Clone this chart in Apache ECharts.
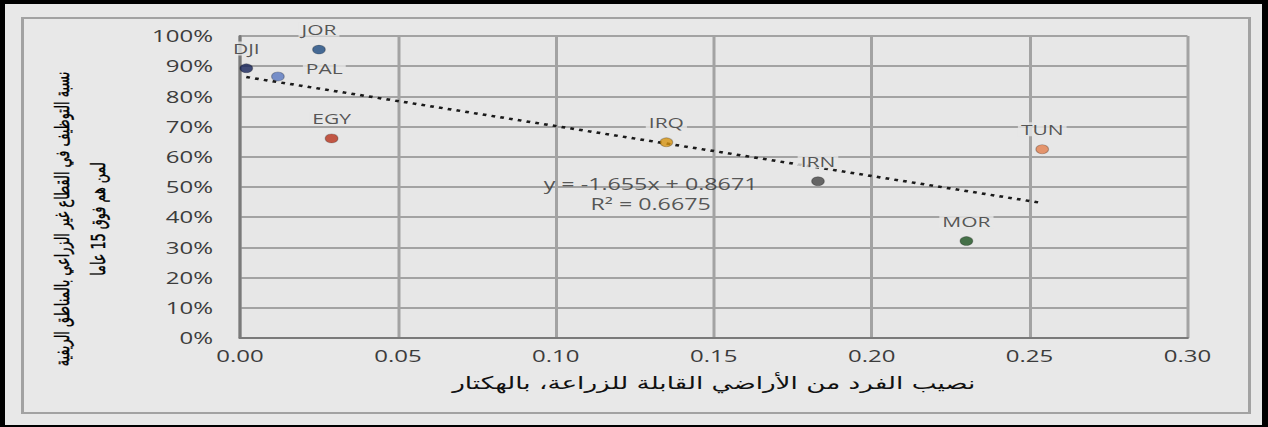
<!DOCTYPE html>
<html>
<head>
<meta charset="utf-8">
<script src="https://cdn.jsdelivr.net/npm/echarts@6/dist/echarts.min.js"></script>
<style>
html,body{margin:0;padding:0;background:#000;width:1268px;height:427px;overflow:hidden;}
#frame{position:absolute;left:5px;top:4px;width:1257px;height:421px;background:#e8e8e8;}
#inner{position:absolute;left:21px;top:17px;width:1224px;height:393px;border-style:solid;border-color:#a2a2a2;border-width:2px 3px 2px 3px;}
#chart{position:absolute;left:0;top:0;width:845.333px;height:427px;transform:scaleX(1.5);transform-origin:0 0;}
</style>
</head>
<body>
<div id="frame"></div>
<div id="inner"></div>
<div id="chart"></div>
<script>
// ---- data ----
const countries = ['DJI', 'JOR', 'PAL', 'EGY', 'IRQ', 'IRN', 'TUN', 'MOR'];
const landPerCapita = [0.002, 0.025, 0.012, 0.029, 0.135, 0.183, 0.254, 0.230];
const nonAgriShare = [0.893, 0.955, 0.866, 0.661, 0.648, 0.519, 0.625, 0.321];
const trendX = [0.002, 0.254];
const trendY = [0.864, 0.447];
const equationText = 'y = -1.655x + 0.8671\nR² = 0.6675';
const equationAt = [0.130, 0.476];
const xTitle = 'نصيب الفرد من الأراضي القابلة للزراعة، بالهكتار';
const yTitle = 'نسبة التوظيف في القطاع غير الزراعي بالمناطق الريفية\nلمن هم فوق 15 عاما';

// ---- styles ----
const colors = ['#15235a', '#1d4a80', '#5a78c0', '#b8321c', '#d7930f', '#454545', '#e4804d', '#1d5320'];
const labelPos = ['top', 'top', 'right', 'top', 'top', 'top', 'top', 'top'];

const chart = echarts.init(document.getElementById('chart'), null, {renderer: 'svg'});
const pts = countries.map((c, i) => ({
  name: c,
  value: [landPerCapita[i], nonAgriShare[i]],
  itemStyle: {color: colors[i]},
  label: labelPos[i] === 'right'
    ? {position: 'right', distance: 12, offset: [0, -8]}
    : {position: 'top', distance: 8}
}));

const grayTxt = '#3c3c3c';
chart.setOption({
  backgroundColor: 'transparent',
  animation: false,
  graphic: [{
    type: 'text', x: 54, y: 219, rotation: Math.PI / 2,
    style: {
      text: yTitle, fontFamily: 'DejaVu Sans', fontSize: 12.8,
      fill: '#000', stroke: '#000', lineWidth: 0.3,
      align: 'center', verticalAlign: 'middle', lineHeight: 24
    }
  }],
  grid: {left: 160, top: 36, right: 53.333, bottom: 89, containLabel: false, outerBoundsMode: 'none',
         show: true, backgroundColor: '#e7e7e7', borderWidth: 0},
  xAxis: {
    type: 'value', min: 0, max: 0.3, interval: 0.05,
    name: xTitle, nameLocation: 'middle', nameGap: 36,
    nameTextStyle: {fontFamily: 'DejaVu Sans', fontSize: 17.5, color: '#111'},
    axisLine: {show: true, lineStyle: {color: '#7a7a7a', width: 2}},
    axisTick: {show: false},
    axisLabel: {formatter: v => v.toFixed(2), fontFamily: 'Open Sans', fontSize: 16, color: grayTxt, margin: 10},
    splitLine: {show: true, lineStyle: {color: '#a3a3a3', width: 2}}
  },
  yAxis: {
    type: 'value', min: 0, max: 1, interval: 0.1,
    axisLine: {show: true, lineStyle: {color: '#7a7a7a', width: 2}},
    axisTick: {show: false},
    axisLabel: {formatter: v => Math.round(v * 100) + '%', fontFamily: 'Open Sans', fontSize: 16, color: grayTxt, margin: 18},
    splitLine: {show: true, lineStyle: {color: '#a3a3a3', width: 2}}
  },
  series: [
    {
      type: 'line', data: trendX.map((x, i) => [x, trendY[i]]),
      symbol: 'none', silent: true, z: 3,
      lineStyle: {color: '#1a1a1a', width: 2.5, type: [2.5, 3.5]}
    },
    {
      type: 'scatter', data: pts, symbol: 'circle', symbolSize: [8.5, 9], z: 5,
      itemStyle: {borderColor: 'rgba(0,0,0,0.3)', borderWidth: 0.8},
      label: {
        show: true, formatter: p => p.name, fontFamily: 'Open Sans', fontSize: 14,
        color: '#2f2f2f', backgroundColor: '#e7e7e7', padding: [0, 2]
      }
    },
    {
      type: 'scatter', data: [equationAt], symbolSize: 0, silent: true, z: 6,
      label: {
        show: true, position: 'inside', formatter: equationText, fontFamily: 'Open Sans',
        fontSize: 15.5, color: '#2f2f2f', lineHeight: 19.5, align: 'center'
      }
    }
  ]
});
</script>
</body>
</html>
